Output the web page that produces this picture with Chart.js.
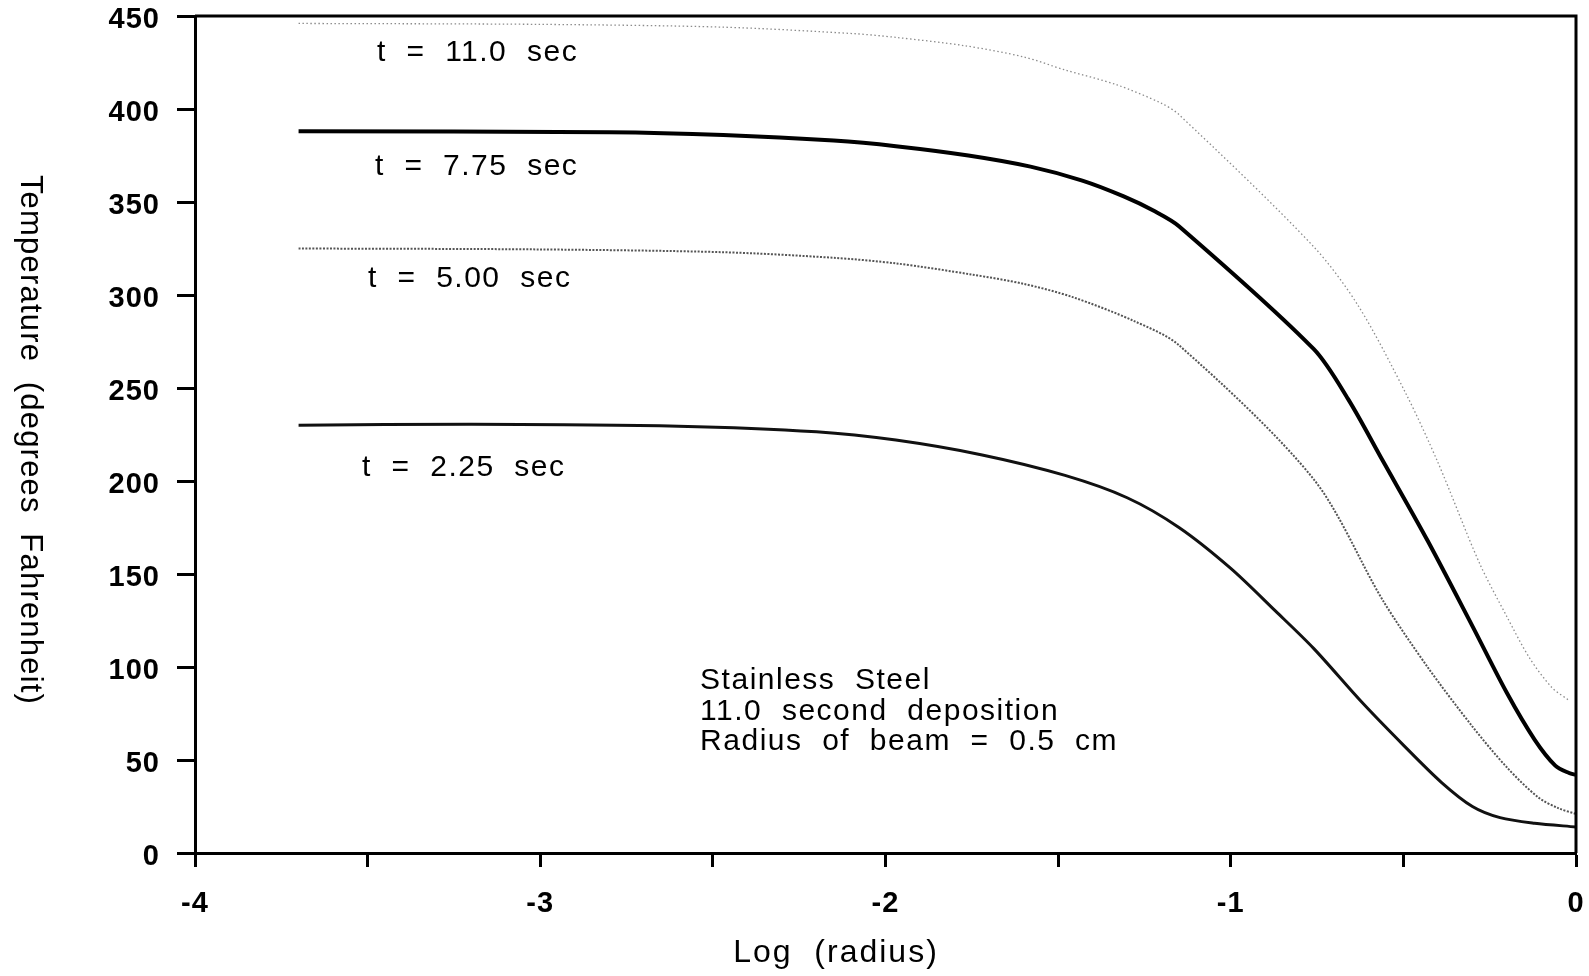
<!DOCTYPE html>
<html>
<head>
<meta charset="utf-8">
<script src="https://cdn.jsdelivr.net/npm/chart.js@4/dist/chart.umd.min.js"></script>
<style>
  html, body { margin: 0; padding: 0; background: #fff; }
</style>
</head>
<body>
<canvas id="chart" width="1589" height="976"></canvas>
<script>
// log(radius) vs temperature
const logR110 = [-3.70, -3.00, -2.47, -2.09, -1.97, -1.77, -1.60, -1.48, -1.33, -1.20, -1.15, -0.76, -0.63, -0.49, -0.40, -0.28, -0.20, -0.135, -0.07, -0.02];
const temp110 = [446, 445.5, 444, 440.5, 438.5, 434, 428, 421, 413, 403, 397, 326, 294, 246, 210, 156, 127, 105, 89, 82];

const logR775 = [-3.70, -2.80, -2.47, -2.15, -1.97, -1.76, -1.58, -1.43, -1.31, -1.22, -1.15, -0.76, -0.66, -0.56, -0.43, -0.30, -0.20, -0.12, -0.06, -0.02, 0];
const temp775 = [388, 387.5, 386, 383, 380, 375, 369, 361.5, 353, 345, 337, 271, 244, 211, 168, 122, 86, 61, 47, 43, 42];

const logR500 = [-3.70, -3.00, -2.47, -2.15, -1.97, -1.75, -1.60, -1.46, -1.28, -1.15, -0.76, -0.56, -0.43, -0.30, -0.20, -0.11, -0.05, 0];
const temp500 = [325, 324.5, 323, 320, 317, 311, 306, 299, 286, 273, 201, 136, 100, 68, 46, 30, 24, 21];

const logR225 = [-3.70, -3.20, -2.60, -2.20, -1.97, -1.72, -1.48, -1.30, -1.15, -1.00, -0.87, -0.76, -0.62, -0.50, -0.39, -0.30, -0.22, -0.12, 0];
const temp225 = [230, 230.5, 229.5, 226.5, 222, 214, 203, 191, 175, 153, 130, 110, 81, 58, 38, 25, 19, 16, 14];

// curve labels: [text, log r, temp]
const curveLabels = [
  ['t  =  11.0  sec', -3.473, 430],
  ['t  =  7.75  sec', -3.479, 369],
  ['t  =  5.00  sec', -3.499, 308.5],
  ['t  =  2.25  sec', -3.516, 207]
];
const noteLines = ['Stainless  Steel', '11.0  second  deposition', 'Radius  of  beam  =  0.5  cm'];
const noteX = -2.537;
const noteY = [92.6, 75.9, 59.8];

const FONT = '"Liberation Sans", Arial, Helvetica, sans-serif';
const toPoints = (xs, ys) => xs.map((x, i) => ({ x: x, y: ys[i] }));

const extras = {
  id: 'extras',
  beforeDraw(chart) {
    chart.ctx.letterSpacing = '1px';
  },
  afterDraw(chart) {
    const { ctx, chartArea: a, scales } = chart;
    ctx.save();
    // top and right frame
    ctx.strokeStyle = '#000';
    ctx.lineWidth = 3;
    ctx.beginPath();
    ctx.moveTo(a.left, a.top);
    ctx.lineTo(a.right, a.top);
    ctx.lineTo(a.right, a.bottom);
    ctx.stroke();

    ctx.fillStyle = '#000';
    ctx.letterSpacing = '1.5px';
    ctx.textAlign = 'left';
    ctx.textBaseline = 'middle';
    ctx.font = '30px ' + FONT;
    curveLabels.forEach(l => {
      ctx.fillText(l[0], scales.x.getPixelForValue(l[1]), scales.y.getPixelForValue(l[2]));
    });
    noteLines.forEach((t, i) => {
      ctx.fillText(t, scales.x.getPixelForValue(noteX), scales.y.getPixelForValue(noteY[i]));
    });

    // axis titles
    ctx.textAlign = 'center';
    ctx.letterSpacing = '2px';
    ctx.font = '32px ' + FONT;
    ctx.fillText('Log  (radius)', 836, 953);
    ctx.translate(30, 440);
    ctx.rotate(Math.PI / 2);
    ctx.letterSpacing = '1.2px';
    ctx.font = '31px ' + FONT;
    ctx.fillText('Temperature  (degrees  Fahrenheit)', 0, 0);
    ctx.restore();
  }
};

const lineStyle = { pointRadius: 0, fill: false, tension: 0.3 };

new Chart(document.getElementById('chart'), {
  type: 'line',
  data: {
    datasets: [
      { label: 't = 11.0 sec', data: toPoints(logR110, temp110), borderColor: '#8c8c8c', borderWidth: 1.3, borderDash: [1.5, 2.5], ...lineStyle },
      { label: 't = 7.75 sec', data: toPoints(logR775, temp775), borderColor: '#000', borderWidth: 4, ...lineStyle },
      { label: 't = 5.00 sec', data: toPoints(logR500, temp500), borderColor: '#555', borderWidth: 2, borderDash: [2, 1.5], ...lineStyle },
      { label: 't = 2.25 sec', data: toPoints(logR225, temp225), borderColor: '#111', borderWidth: 3, ...lineStyle }
    ]
  },
  options: {
    responsive: false,
    animation: false,
    layout: { padding: { top: 16, right: 13, left: 0, bottom: 0 } },
    plugins: { legend: { display: false }, tooltip: { enabled: false } },
    scales: {
      x: {
        type: 'linear',
        min: -4,
        max: 0,
        ticks: {
          stepSize: 0.5,
          autoSkip: false,
          maxRotation: 0,
          padding: 20,
          color: '#000',
          font: { family: FONT, size: 29, weight: 'bold' },
          callback: v => Number.isInteger(v) ? String(v) : ''
        },
        grid: { drawOnChartArea: false, drawTicks: true, tickLength: 14, tickWidth: 3, tickColor: '#000' },
        border: { display: true, color: '#000', width: 3 },
        afterFit: s => { s.height = 123; s.paddingLeft = 0; s.paddingRight = 0; }
      },
      y: {
        min: 0,
        max: 450,
        ticks: {
          stepSize: 50,
          padding: 17,
          labelOffset: 4,
          color: '#000',
          font: { family: FONT, size: 29, weight: 'bold' }
        },
        grid: { drawOnChartArea: false, drawTicks: true, tickLength: 18, tickWidth: 3, tickColor: '#000' },
        border: { display: true, color: '#000', width: 3 },
        afterFit: s => { s.width = 195; s.paddingTop = 0; s.paddingBottom = 0; }
      }
    }
  },
  plugins: [extras]
});
</script>
</body>
</html>
